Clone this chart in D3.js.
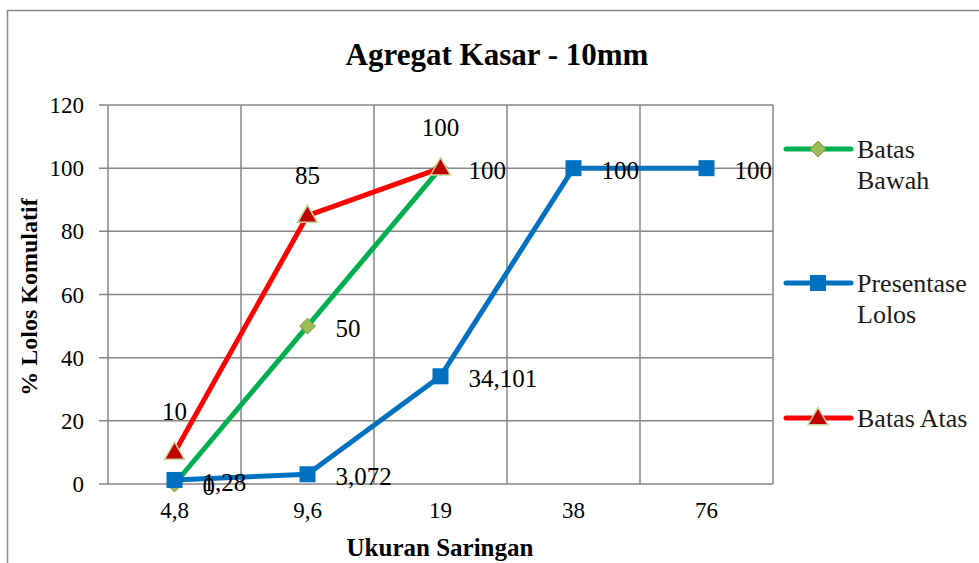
<!DOCTYPE html>
<html>
<head>
<meta charset="utf-8">
<script src="https://cdn.jsdelivr.net/npm/d3@7"></script>
<style>
  html, body { margin: 0; padding: 0; background: #fff; }
  svg { display: block; }
</style>
</head>
<body>
<svg id="chart" width="979" height="563"></svg>
<script>
// Sieve sizes (mm) and cumulative passing percentages
const categories = ["4,8", "9,6", "19", "38", "76"];
const batasBawah = [0, 50, 100];
const presentaseLolos = [1.28, 3.072, 34.101, 100, 100];
const batasAtas = [10, 85, 100];
const yTicks = [0, 20, 40, 60, 80, 100, 120];

const series = [
  { name: ["Batas", "Bawah"], values: batasBawah, color: "#00B050", marker: "diamond", labelPos: "right" },
  { name: ["Presentase", "Lolos"], values: presentaseLolos, color: "#0070C0", marker: "square", labelPos: "right" },
  { name: ["Batas Atas"], values: batasAtas, color: "#FF0000", marker: "triangle", labelPos: "top" }
];

const FONT = '"Liberation Serif", "Times New Roman", Tinos, serif';
const fmt = v => String(v).replace(".", ",");

const svg = d3.select("#chart");
const plot = { left: 108, right: 773, top: 105, bottom: 484 };

function txt(g) {
  return g.append("text").style("font-family", FONT).attr("fill", "#000");
}

// outer chart frame
svg.append("rect")
  .attr("x", 7.5).attr("y", 10.5)
  .attr("width", 1000).attr("height", 600)
  .attr("fill", "#fff").attr("stroke", "#8c8c8c").attr("stroke-width", 1.5);

const x = d3.scaleBand().domain(categories).range([plot.left, plot.right]);
const y = d3.scaleLinear().domain([0, 120]).range([plot.bottom, plot.top]);

// horizontal gridlines with small outward ticks
svg.append("g").selectAll("line").data(yTicks).join("line")
  .attr("x1", plot.left - 9).attr("x2", plot.right)
  .attr("y1", d => y(d)).attr("y2", d => y(d))
  .attr("stroke", "#868686").attr("stroke-width", 1.5);

// vertical gridlines at category boundaries
const bounds = categories.map(c => x(c)).concat([plot.right]);
svg.append("g").selectAll("line").data(bounds).join("line")
  .attr("x1", d => d).attr("x2", d => d)
  .attr("y1", plot.top).attr("y2", plot.bottom)
  .attr("stroke", "#868686").attr("stroke-width", 1.5);

// y tick labels
const yl = svg.append("g");
yTicks.forEach(d => {
  txt(yl).attr("x", 84).attr("y", y(d))
    .attr("dy", "0.35em").attr("text-anchor", "end")
    .attr("font-size", 23).text(d);
});

// x tick labels
const xl = svg.append("g");
categories.forEach(d => {
  txt(xl).attr("x", x(d) + x.bandwidth() / 2).attr("y", 518)
    .attr("text-anchor", "middle")
    .attr("font-size", 23).text(d);
});

// titles
txt(svg).attr("x", 497).attr("y", 65).attr("text-anchor", "middle")
  .attr("font-size", 31).attr("font-weight", "bold")
  .text("Agregat Kasar - 10mm");

txt(svg).attr("x", 440).attr("y", 556).attr("text-anchor", "middle")
  .attr("font-size", 25).attr("font-weight", "bold")
  .text("Ukuran Saringan");

txt(svg).attr("transform", "translate(37,297) rotate(-90)")
  .attr("text-anchor", "middle")
  .attr("font-size", 24).attr("font-weight", "bold")
  .text("% Lolos Komulatif");

// marker drawing
function drawMarker(g, type, cx, cy) {
  if (type === "diamond") {
    g.append("path")
      .attr("d", d3.symbol(d3.symbolDiamond2, 160)())
      .attr("transform", `translate(${cx},${cy})`)
      .attr("fill", "#9BBB59").attr("stroke", "#7A9A3C").attr("stroke-width", 1);
  } else if (type === "square") {
    g.append("rect")
      .attr("x", cx - 8).attr("y", cy - 8)
      .attr("width", 16).attr("height", 16)
      .attr("fill", "#0070C0");
  } else {
    g.append("path")
      .attr("d", d3.symbol(d3.symbolTriangle, 170)())
      .attr("transform", `translate(${cx},${cy + 1})`)
      .attr("fill", "#C00000").attr("stroke", "#C4D79B").attr("stroke-width", 1.5);
  }
}

const cx = i => x(categories[i]) + x.bandwidth() / 2;
const line = d3.line().x((d, i) => cx(i)).y(d => y(d));

series.forEach(s => {
  const g = svg.append("g");
  g.append("path").datum(s.values)
    .attr("d", line)
    .attr("fill", "none").attr("stroke", s.color)
    .attr("stroke-width", 5).attr("stroke-linejoin", "round");
  s.values.forEach((v, i) => drawMarker(g, s.marker, cx(i), y(v)));
});

// data labels (drawn after all lines)
series.forEach(s => {
  const g = svg.append("g");
  s.values.forEach((v, i) => {
    const t = txt(g).attr("font-size", 25).text(fmt(v));
    if (s.labelPos === "right") {
      t.attr("x", cx(i) + 28).attr("y", y(v) + 2).attr("dy", "0.35em");
    } else {
      t.attr("x", cx(i)).attr("y", y(v) - 32).attr("text-anchor", "middle");
    }
  });
});

// legend
const legY = [149, 283, 418];
series.forEach((s, k) => {
  const g = svg.append("g");
  g.append("line")
    .attr("x1", 786).attr("x2", 851)
    .attr("y1", legY[k]).attr("y2", legY[k])
    .attr("stroke", s.color).attr("stroke-width", 5).attr("stroke-linecap", "round");
  drawMarker(g, s.marker, 818, legY[k]);
  s.name.forEach((ln, j) => {
    txt(g).attr("x", 857).attr("y", legY[k] + j * 31)
      .attr("dy", "0.35em").attr("font-size", 26).attr("fill", "#1a1a1a")
      .text(ln);
  });
});
</script>
</body>
</html>
